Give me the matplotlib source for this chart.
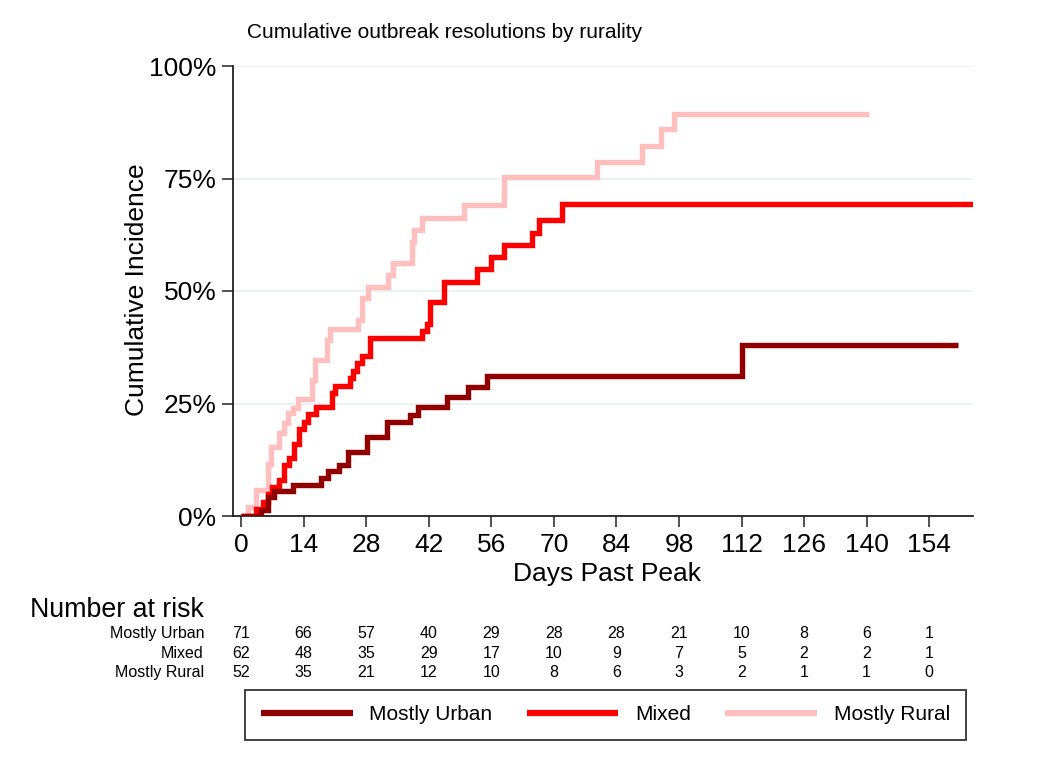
import numpy as np
import matplotlib.pyplot as plt
from matplotlib.transforms import blended_transform_factory

plt.rcParams['font.family'] = ['Liberation Sans', 'DejaVu Sans']

# cumulative incidence (%), step changes at these days
urban_days = [0, 4.5, 6, 7.3, 11.6, 18, 19.4, 22, 23.9, 28.2, 32.7, 37.8, 39.6,
              46.1, 50.8, 55.1, 112.1, 160.5]
urban_ci = [0, 1.4, 4.2, 5.6, 7.0, 8.5, 9.9, 11.3, 14.3, 17.5, 20.8, 22.5, 24.3,
            26.4, 28.6, 31.1, 37.9, 37.9]

mixed_days = [0, 3.3, 5, 6, 7, 8.5, 9.6, 10.7, 11.8, 13, 14, 15, 16.7, 20.3, 21,
              24.3, 25, 26, 27, 28.8, 40.6, 41.7, 42.2, 45.5, 52.9, 56, 58.9,
              65.2, 66.7, 71.9, 166]
mixed_ci = [0, 1.6, 3.2, 4.8, 6.5, 8.1, 11.3, 12.9, 16.1, 19.4, 21.0, 22.6, 24.2,
            27.4, 29.0, 30.6, 32.3, 33.9, 35.5, 39.5, 41.1, 42.7, 47.6, 52.0,
            54.8, 57.5, 60.2, 62.8, 65.8, 69.3, 69.3]

rural_days = [0, 1.5, 3.3, 6, 6.7, 8.5, 9.6, 10.5, 11.6, 12.7, 15.8, 16.5, 19.2,
              19.9, 26.1, 27, 28.3, 32.8, 33.9, 38.2, 38.8, 40.6, 50, 58.9, 79.7,
              89.7, 94, 96.9, 140.6]
rural_ci = [0, 1.9, 5.8, 11.5, 15.4, 18.4, 20.7, 22.9, 24.0, 25.9, 30.2, 34.7,
            39.1, 41.6, 43.6, 48.4, 50.9, 53.6, 56.2, 60.9, 63.6, 66.2, 69.1,
            75.3, 78.7, 82.2, 86.0, 89.3, 89.3]

group_names = ['Mostly Urban', 'Mixed', 'Mostly Rural']
group_colors = ['#900000', '#FF0000', '#FFBFBF']

# number at risk table
risk_days = [0, 14, 28, 42, 56, 70, 84, 98, 112, 126, 140, 154]
risk_urban = [71, 66, 57, 40, 29, 28, 28, 21, 10, 8, 6, 1]
risk_mixed = [62, 48, 35, 29, 17, 10, 9, 7, 5, 2, 2, 1]
risk_rural = [52, 35, 21, 12, 10, 8, 6, 3, 2, 1, 1, 0]

W, H = 1051, 765


def fx(px):
    return px / W


def fy(py):
    return 1 - py / H


fig = plt.figure(figsize=(W / 100, H / 100), dpi=100)
ax = fig.add_axes([fx(233), fy(516), fx(973) - fx(233), fy(66) - fy(516)])

# rural at the back, urban on top
curves = [(urban_days, urban_ci), (mixed_days, mixed_ci), (rural_days, rural_ci)]
handles = []
for i in [2, 1, 0]:
    d, c = curves[i]
    ln, = ax.step(d, c, where='post', color=group_colors[i], lw=3.9,
                  solid_joinstyle='miter', solid_capstyle='butt',
                  zorder=3 + (2 - i), label=group_names[i])
    handles.append(ln)
handles = handles[::-1]

ax.set_xlim(-1.8, 163.8)
ax.set_ylim(0, 100)
ax.set_xticks(risk_days)
ax.set_yticks([0, 25, 50, 75, 100])
ax.set_yticklabels(['0%', '25%', '50%', '75%', '100%'])
ax.grid(axis='y', color='#EAF2F3', lw=1.5, zorder=0)
ax.tick_params(axis='both', labelsize=19, length=8, width=1.1, color='#222222')
ax.tick_params(axis='x', pad=4)
ax.tick_params(axis='y', pad=4)
for s in ['top', 'right']:
    ax.spines[s].set_visible(False)
for s in ['left', 'bottom']:
    ax.spines[s].set_linewidth(1.3)
    ax.spines[s].set_color('#222222')

fig.text(fx(247), fy(38), 'Cumulative outbreak resolutions by rurality',
         fontsize=15, ha='left', va='baseline')
fig.text(fx(137), fy(290), 'Cumulative Incidence', rotation=90, fontsize=19,
         ha='center', va='center')
fig.text(fx(607), fy(574), 'Days Past Peak', fontsize=19, ha='center', va='center')

# number at risk
fig.text(fx(30), fy(617), 'Number at risk', fontsize=19.3, ha='left', va='baseline')
trans = blended_transform_factory(ax.transData, fig.transFigure)
row_y = [638, 658, 677]
for name, counts, yy in zip(group_names, [risk_urban, risk_mixed, risk_rural], row_y):
    fig.text(fx(204), fy(yy), name, fontsize=11.5, ha='right', va='baseline')
    for d, n in zip(risk_days, counts):
        ax.text(d, fy(yy), str(n), transform=trans, fontsize=11.5,
                ha='center', va='baseline', clip_on=False)

leg = fig.legend(handles, group_names, loc='center', ncol=3,
                 bbox_to_anchor=(fx(605.5), fy(715)), fontsize=15,
                 frameon=True, fancybox=False, edgecolor='black',
                 handlelength=4.4, handletextpad=0.8, columnspacing=1.65,
                 borderpad=0.75)
leg.get_frame().set_linewidth(1.3)
for lh in leg.get_lines():
    lh.set_linewidth(4.5)

fig.savefig('out.png', dpi=100)
